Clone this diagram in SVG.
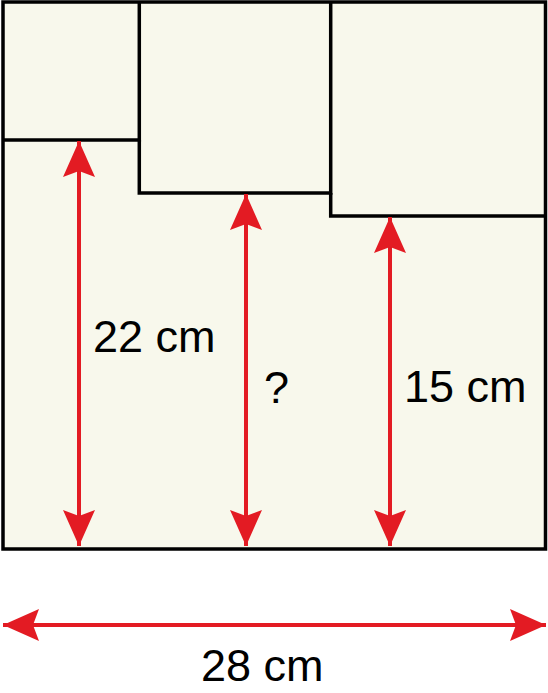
<svg xmlns="http://www.w3.org/2000/svg" width="548" height="693" viewBox="0 0 548 693">
<style>
.box{fill:#F8F8EC;stroke:#000;stroke-width:3.5}
.ln{fill:none;stroke:#000;stroke-width:3.5}
.dim{stroke:#E31B23;stroke-width:4;fill:none}
.lbl{font-family:"Liberation Sans",Arial,sans-serif;font-size:45px;fill:#000}
</style>
<defs>
<marker id="ah" viewBox="0 0 36 32" refX="36" refY="16" markerWidth="36" markerHeight="32" markerUnits="userSpaceOnUse" orient="auto-start-reverse">
<path d="M0,0 L36,16 L0,32 L6,16 Z" fill="#E31B23"/>
</marker>
</defs>
<rect width="548" height="693" fill="#fff"/>
<g id="outer-square">
<rect class="box" x="3" y="2" width="542.5" height="547"/>
</g>
<g id="square-small">
<polyline class="ln" points="3,140 139.3,140 139.3,2"/>
</g>
<g id="square-middle">
<polyline class="ln" points="139.3,140 139.3,193 330.7,193 330.7,2"/>
</g>
<g id="square-large">
<polyline class="ln" points="330.7,193 330.7,216 545.5,216"/>
</g>
<g id="connectors">
<line class="dim" x1="79" y1="141" x2="79" y2="546" marker-start="url(#ah)" marker-end="url(#ah)"/>
<line class="dim" x1="246" y1="194" x2="246" y2="546" marker-start="url(#ah)" marker-end="url(#ah)"/>
<line class="dim" x1="390" y1="217" x2="390" y2="546" marker-start="url(#ah)" marker-end="url(#ah)"/>
<line class="dim" x1="3" y1="625" x2="546" y2="625" marker-start="url(#ah)" marker-end="url(#ah)"/>
</g>
<g id="labels">
<text class="lbl" x="93" y="352">22 cm</text>
<text class="lbl" x="264" y="403">?</text>
<text class="lbl" x="404" y="402">15 cm</text>
<text class="lbl" x="201" y="681">28 cm</text>
</g>
</svg>
